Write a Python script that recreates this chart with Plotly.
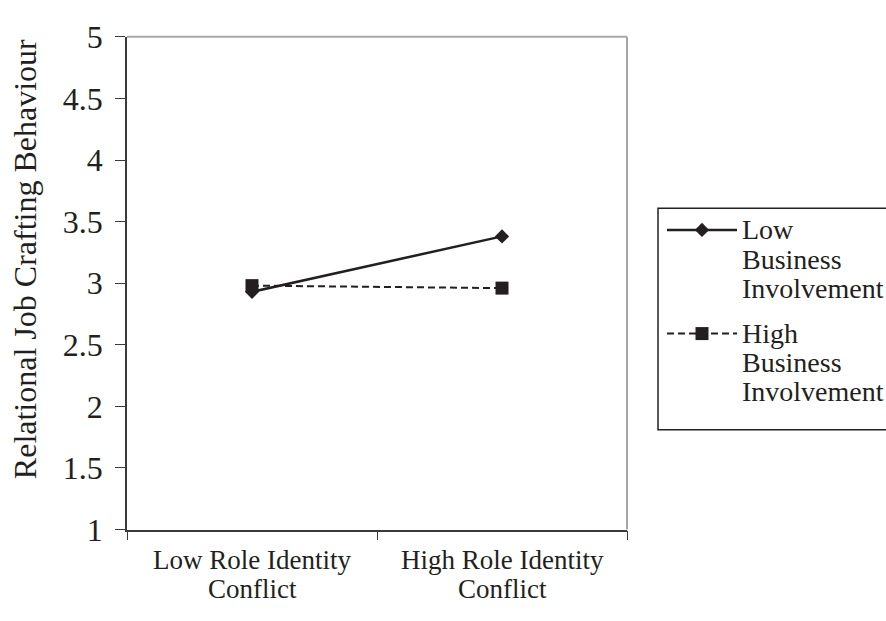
import plotly.graph_objects as go

# ---- data ----
categories = ["Low Role Identity<br>Conflict", "High Role Identity<br>Conflict"]
low_business = [2.93, 3.38]
high_business = [2.98, 2.96]
series_names = ["Low<br>Business<br>Involvement", "High<br>Business<br>Involvement"]
y_ticks = [1, 1.5, 2, 2.5, 3, 3.5, 4, 4.5, 5]
y_title = "Relational Job Crafting Behaviour"

# ---- layout constants (pixels) ----
W, H = 886, 621
PL, PR, PT, PB = 127, 627, 20, 543
INK = "#231f20"
FONT = "Liberation Serif"

fig = go.Figure()

styles = [
    dict(line=dict(color=INK, width=2.5), marker=dict(symbol="diamond", size=11, color=INK)),
    dict(line=dict(color=INK, width=2, dash="7px,4px"), marker=dict(symbol="square", size=13, color=INK)),
]
for vals, name, st in zip([low_business, high_business], series_names, styles):
    fig.add_trace(go.Scatter(x=categories, y=vals, name=name, mode="lines+markers",
                             line=st["line"], marker=st["marker"], showlegend=False,
                             xaxis="x", yaxis="y"))

shapes = []
annotations = []

# category labels (two lines each, tighter line pitch)
for cat in categories:
    for j, part in enumerate(cat.split("<br>")):
        annotations.append(dict(x=cat, y=575 + j * 31, xref="x", yref="y2", text=part,
                                showarrow=False, xanchor="center", yanchor="middle",
                                font=dict(family=FONT, size=27, color=INK)))

# ---- manual legend on a pixel overlay ----
LX0, LY0, LX1, LY1 = 658, 202, 892, 437
key_x0, key_x1, key_mid, text_x = 667, 737, 702, 740
row_start = [225, 335]
pitch = 31
for i, (name, st) in enumerate(zip(series_names, styles)):
    y0 = row_start[i]
    fig.add_trace(go.Scatter(x=[key_x0, key_x1], y=[y0, y0], mode="lines", line=st["line"],
                             showlegend=False, hoverinfo="skip", xaxis="x2", yaxis="y2"))
    fig.add_trace(go.Scatter(x=[key_mid], y=[y0], mode="markers", marker=st["marker"],
                             showlegend=False, hoverinfo="skip", xaxis="x2", yaxis="y2"))
    for j, part in enumerate(name.split("<br>")):
        annotations.append(dict(x=text_x, y=y0 + j * pitch, xref="x2", yref="y2", text=part,
                                showarrow=False, xanchor="left", yanchor="middle",
                                font=dict(family=FONT, size=28, color=INK)))
shapes.append(dict(type="rect", xref="x2", yref="y2", x0=LX0, y0=LY0, x1=LX1, y1=LY1,
                   line=dict(color=INK, width=1.5)))
# top and right frame in grey
shapes.append(dict(type="line", xref="x domain", yref="y domain", x0=0, x1=1, y0=1, y1=1,
                   line=dict(color="#a6a6a6", width=2)))
shapes.append(dict(type="line", xref="x domain", yref="y domain", x0=1, x1=1, y0=0, y1=1,
                   line=dict(color="#a6a6a6", width=2)))

annotations.append(dict(x=25, y=256, xref="x2", yref="y2", text=y_title,
                        textangle=-90, showarrow=False, xanchor="center", yanchor="middle",
                        font=dict(family=FONT, size=32, color=INK)))

fig.update_layout(
    width=W, height=H,
    margin=dict(l=0, r=0, t=0, b=0),
    paper_bgcolor="white", plot_bgcolor="rgba(0,0,0,0)",
    font=dict(family=FONT, size=26, color=INK),
    xaxis=dict(domain=[PL / W, PR / W], type="category", range=[-0.5, 1.5],
               showline=True, linecolor="#3a3a3a", linewidth=1.5,
               ticks="outside", ticklen=9, tickcolor="#3a3a3a", tickson="boundaries",
               showticklabels=False,
               showgrid=False, zeroline=False, anchor="y", fixedrange=True),
    yaxis=dict(domain=[1 - PB / H, 1 - PT / H], range=[1, 5], tickvals=y_ticks,
               showline=True, linecolor="#3a3a3a", linewidth=1.5,
               ticks="outside", ticklen=10, tickcolor="#3a3a3a", ticklabelstandoff=6,
               showgrid=False, zeroline=False, tickfont=dict(family=FONT, size=32, color=INK),
               anchor="x", fixedrange=True),
    xaxis2=dict(domain=[0, 1], range=[0, W], visible=False, anchor="y2", fixedrange=True),
    yaxis2=dict(domain=[0, 1], range=[H, 0], visible=False, anchor="x2", fixedrange=True),
    shapes=shapes,
    annotations=annotations,
    showlegend=False,
)

fig.write_html("out.html", config={"displayModeBar": False},
               post_script="document.body.style.margin='0';document.body.style.overflow='hidden';")
